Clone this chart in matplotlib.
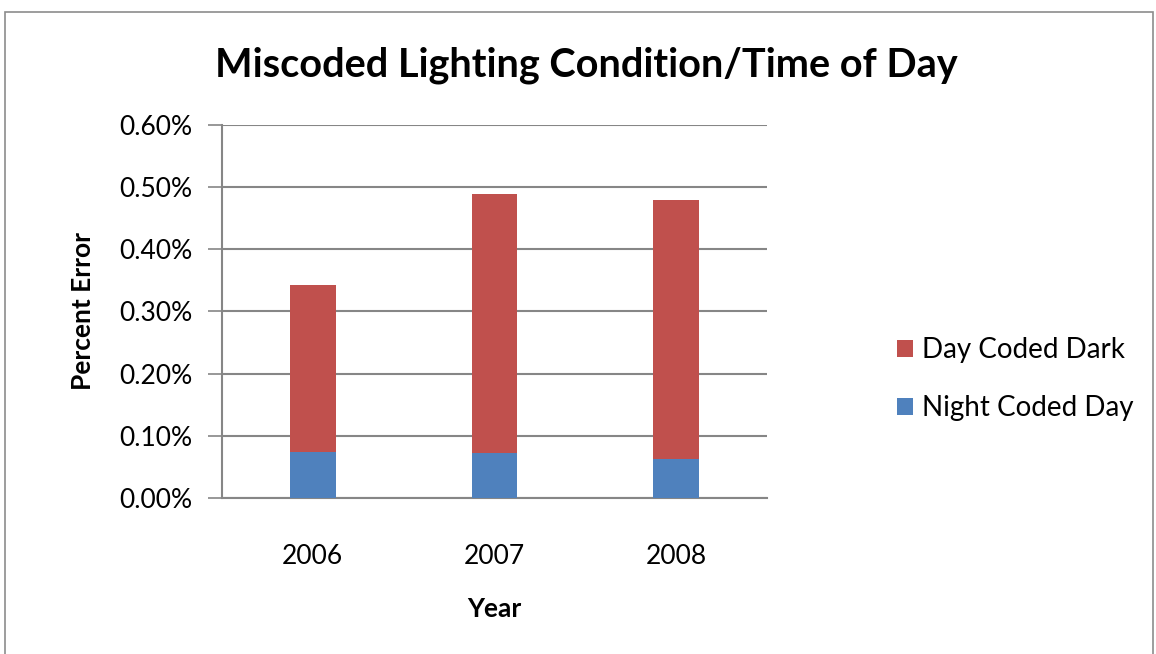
import matplotlib.pyplot as plt
from matplotlib.patches import Rectangle
from matplotlib.ticker import FuncFormatter

years = ["2006", "2007", "2008"]
night_coded_day = [0.074, 0.072, 0.062]
day_coded_dark = [0.269, 0.417, 0.417]
y_ticks = [0.0, 0.1, 0.2, 0.3, 0.4, 0.5, 0.6]

plt.rcParams["font.family"] = ["Lato", "DejaVu Sans"]

red = "#C0504D"
blue = "#4F81BD"
grey = "#868686"

fig = plt.figure(figsize=(11.56, 6.54), dpi=100)
fig.patches.append(Rectangle((0.004, -0.05), 0.993, 1.032, transform=fig.transFigure,
                             fill=False, edgecolor="#8c8c8c", linewidth=1.2))
ax = fig.add_axes([0.192, 0.2385, 0.4715, 0.5705])

x = range(len(years))
ax.bar(x, night_coded_day, width=0.25, color=blue, label="Night Coded Day", zorder=3)
ax.bar(x, day_coded_dark, width=0.25, bottom=night_coded_day, color=red,
       label="Day Coded Dark", zorder=3)

ax.set_xlim(-0.5, 2.5)
ax.set_ylim(0, 0.6)
ax.set_yticks(y_ticks)
ax.yaxis.set_major_formatter(FuncFormatter(lambda v, p: f"{v:.2f}%"))
ax.set_xticks(list(x))
ax.set_xticklabels(years)
ax.tick_params(axis="x", length=0, pad=33, labelsize=19)
ax.tick_params(axis="y", length=10, width=1.2, color=grey, labelsize=19, pad=11)

ax.grid(axis="y", color=grey, linewidth=1.5, zorder=0)
for side in ["top", "right"]:
    ax.spines[side].set_visible(False)
for side in ["left", "bottom"]:
    ax.spines[side].set_color(grey)
    ax.spines[side].set_linewidth(1.5)

ax.set_ylabel("Percent Error", fontsize=19, fontweight="bold", labelpad=18)
ax.set_xlabel("Year", fontsize=19, fontweight="bold", labelpad=20)
fig.text(0.507, 0.9, "Miscoded Lighting Condition/Time of Day", ha="center",
         va="center", fontsize=28.5, fontweight="bold")

handles, labels = ax.get_legend_handles_labels()
fig.legend(handles[::-1], labels[::-1], loc="center left", bbox_to_anchor=(0.754, 0.42),
           frameon=False, fontsize=20, handlelength=0.6, handleheight=0.6,
           handletextpad=0.3, labelspacing=1.15)

fig.savefig("out.png", dpi=100)
